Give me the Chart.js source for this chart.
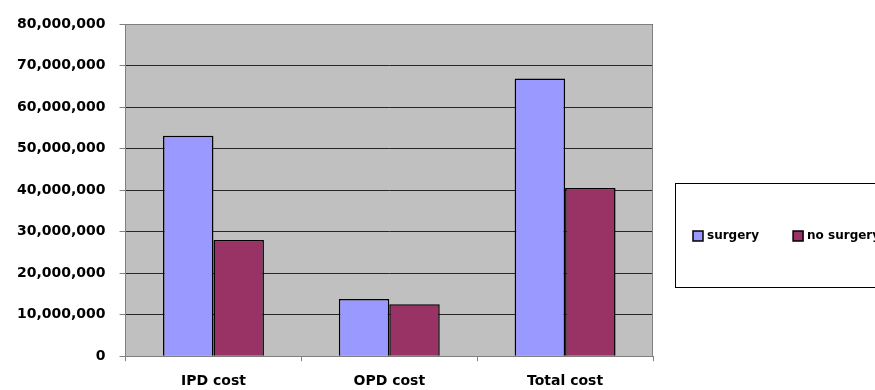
<!DOCTYPE html>
<html>
<head>
<meta charset="utf-8">
<script src="https://cdn.jsdelivr.net/npm/chart.js@4/dist/chart.umd.min.js"></script>
<style>
  html, body { margin: 0; padding: 0; background: #ffffff; }
  #wrap { width: 875px; height: 390px; position: relative; }
</style>
</head>
<body>
<div id="wrap"><canvas id="c" width="875" height="390"></canvas></div>
<script>
// Cost categories and the two patient groups
const categories = ['IPD cost', 'OPD cost', 'Total cost'];
const surgery = [53100000, 13800000, 66900000];
const noSurgery = [28000000, 12500000, 40500000];
const yTicks = [0, 10000000, 20000000, 30000000, 40000000, 50000000, 60000000, 70000000, 80000000];
const seriesNames = ['surgery', 'no surgery'];

const FONT = '"DejaVu Sans", sans-serif';

// Grey plot background plus the thin frame around it
const plotFrame = {
  id: 'plotFrame',
  beforeDraw(chart) {
    const { ctx, chartArea: a } = chart;
    ctx.save();
    ctx.fillStyle = '#C0C0C0';
    ctx.fillRect(a.left, a.top, a.right - a.left, a.bottom - a.top);
    ctx.restore();
  },
  afterDatasetsDraw(chart) {
    const { ctx, chartArea: a } = chart;
    ctx.save();
    ctx.strokeStyle = '#808080';
    ctx.lineWidth = 1;
    ctx.beginPath();
    ctx.moveTo(a.left, a.top + 0.5);
    ctx.lineTo(a.right - 0.5, a.top + 0.5);
    ctx.lineTo(a.right - 0.5, a.bottom);
    ctx.stroke();
    ctx.restore();
  }
};

// Boxed legend to the right of the plot
const boxLegend = {
  id: 'boxLegend',
  afterDraw(chart) {
    const { ctx } = chart;
    ctx.save();
    ctx.strokeStyle = '#000000';
    ctx.lineWidth = 1;
    ctx.strokeRect(675.5, 183.5, 220, 104);
    ctx.font = 'bold 12px ' + FONT;
    ctx.textBaseline = 'middle';
    ctx.textAlign = 'left';
    let x = 693;
    const y = 236;
    chart.data.datasets.forEach((ds) => {
      ctx.fillStyle = ds.backgroundColor;
      ctx.fillRect(x, y - 5, 10, 10);
      ctx.strokeStyle = '#000000';
      ctx.lineWidth = 1.5;
      ctx.strokeRect(x, y - 5, 10, 10);
      ctx.fillStyle = '#000000';
      ctx.fillText(ds.label, x + 14, y);
      x += 14 + ctx.measureText(ds.label).width + 34;
    });
    ctx.restore();
  }
};

new Chart(document.getElementById('c'), {
  type: 'bar',
  data: {
    labels: categories,
    datasets: [
      {
        label: seriesNames[0],
        data: surgery,
        backgroundColor: '#9999FF',
        borderColor: '#000000',
        borderWidth: 1.5,
        categoryPercentage: 0.574,
        barPercentage: 1.0
      },
      {
        label: seriesNames[1],
        data: noSurgery,
        backgroundColor: '#993366',
        borderColor: '#000000',
        borderWidth: 1.5,
        categoryPercentage: 0.574,
        barPercentage: 1.0
      }
    ]
  },
  options: {
    responsive: false,
    animation: false,
    devicePixelRatio: 1,
    layout: { padding: { left: 3, right: 222, top: 24, bottom: -12 } },
    plugins: {
      legend: { display: false },
      tooltip: { enabled: false },
      title: { display: false }
    },
    scales: {
      x: {
        offset: true,
        grid: {
          offset: true,
          drawOnChartArea: false,
          tickLength: 5,
          tickColor: '#808080'
        },
        border: { color: '#808080', width: 1 },
        ticks: {
          color: '#000000',
          padding: 12,
          font: { family: FONT, size: 14, weight: 'bold' },
          maxRotation: 0
        }
      },
      y: {
        min: 0,
        max: 80000000,
        afterBuildTicks(axis) {
          axis.ticks = yTicks.map(v => ({ value: v }));
        },
        grid: {
          color: '#262626',
          lineWidth: 1,
          tickLength: 6,
          tickColor: '#808080'
        },
        border: { color: '#808080', width: 1 },
        ticks: {
          color: '#000000',
          padding: 14,
          font: { family: FONT, size: 14, weight: 'bold' },
          callback: v => Number(v).toLocaleString('en-US')
        }
      }
    }
  },
  plugins: [plotFrame, boxLegend]
});
</script>
</body>
</html>
